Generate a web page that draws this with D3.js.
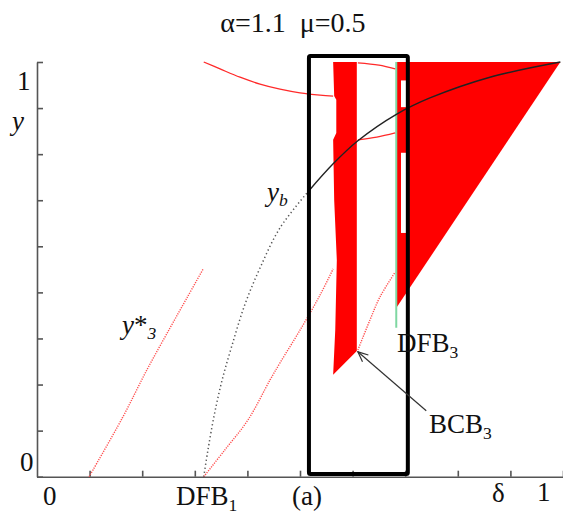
<!DOCTYPE html>
<html>
<head>
<meta charset="utf-8">
<script src="https://cdn.jsdelivr.net/npm/d3@7"></script>
<style>
  body { margin: 0; background: #fff; }
  text { font-family: "Liberation Serif", "Times New Roman", serif; fill: #111; }
</style>
</head>
<body>
<div id="canvas"></div>
<script>
// axis ticks (delta, y)
var xTicks = [0.1, 0.2, 0.3, 0.4, 0.5, 0.6, 0.7, 0.8, 0.9, 1.0];
var yTicks = [0.1, 0.2, 0.3, 0.4, 0.5, 0.6, 0.7, 0.8, 0.9, 1.0];

// filled red regions [delta, y]
var regionLeft = [[0.563, 1.0], [0.608, 1.0], [0.608, 0.373], [0.563, 0.321], [0.567, 0.418],
                  [0.570, 0.570], [0.565, 0.700], [0.563, 0.831], [0.569, 0.846], [0.569, 0.918], [0.565, 0.926]];
var regionRight = [[0.683, 1.0], [0.995, 1.0], [0.683, 0.466]];
// white holes inside the right region
var regionGaps = [[0.692, 0.703, 0.902, 0.960], [0.692, 0.703, 0.629, 0.803]];

// thin solid red curves
var redUpper = [[0.317, 1.0], [0.348, 0.985], [0.386, 0.967], [0.424, 0.952], [0.462, 0.941],
                [0.500, 0.933], [0.538, 0.928], [0.563, 0.926]];
var redInnerTop = [[0.610, 0.998], [0.650, 0.993], [0.681, 0.985]];
var redInnerBottom = [[0.610, 0.831], [0.646, 0.837], [0.681, 0.846]];

// dotted red curves
var yStar3 = [[0.099, 0.1], [0.162, 0.227], [0.209, 0.332], [0.253, 0.423], [0.285, 0.488], [0.316, 0.551]];
var redMiddle = [[0.317, 0.1], [0.357, 0.158], [0.401, 0.223], [0.443, 0.310], [0.462, 0.347],
                 [0.500, 0.418], [0.538, 0.494], [0.563, 0.551]];
var redRight = [[0.610, 0.375], [0.633, 0.440], [0.652, 0.490], [0.681, 0.544]];

// y_b curve (dotted part, then solid part)
var ybDotted = [[0.317, 0.1], [0.325, 0.158], [0.337, 0.234], [0.352, 0.310], [0.371, 0.386],
                [0.395, 0.473], [0.424, 0.553], [0.462, 0.640], [0.515, 0.718]];
var ybSolid = [[0.515, 0.718], [0.563, 0.779], [0.610, 0.829], [0.684, 0.887], [0.747, 0.922],
               [0.861, 0.967], [0.995, 1.0]];

// DFB3 line, zoom box, BCB3 arrow
var dfb3Line = [[0.683, 1.0], [0.683, 0.423]];
var zoomBox = [[0.517, 0.106], [0.705, 1.013]];
var bcbArrow = [[0.740, 0.243], [0.610, 0.371]];

var Chart = (function() {
    var that = { svg: null, x: null, y: null };
    that.init = function() {
        var w = 563;
        var h = 514;
        that.svg = d3.select("#canvas").append("svg").attr("width", w).attr("height", h);
        that.x = d3.scaleLinear().domain([0, 1]).range([37, 563]);
        that.y = d3.scaleLinear().domain([0.1, 1]).range([476.7, 62]);

        // arrow marker
        that.svg.append("defs").append("marker")
            .attr("id", "head")
            .attr("markerUnits", "userSpaceOnUse")
            .attr("markerWidth", 12).attr("markerHeight", 12)
            .attr("refX", 11).attr("refY", 6)
            .attr("orient", "auto")
            .append("path")
            .attr("d", "M1,1.5 L11,6 L1,10.5")
            .attr("fill", "none").attr("stroke", "#333").attr("stroke-width", 1.2);
    };
    that.drawAxes = function() {
        var x = that.x, y = that.y;
        var gx = that.svg.append("g").attr("transform", "translate(0," + y(0.1) + ")")
            .call(d3.axisBottom(x).tickValues(xTicks).tickSizeInner(-6).tickSizeOuter(0).tickFormat(""));
        var gy = that.svg.append("g").attr("transform", "translate(" + x(0) + ",0)")
            .call(d3.axisLeft(y).tickValues(yTicks).tickSizeInner(-6).tickSizeOuter(0).tickFormat(""));
        [gx, gy].forEach(function(g) {
            g.selectAll("path, line").attr("stroke", "#555").attr("stroke-width", 1.6);
        });
    };
    that.drawRegions = function() {
        var x = that.x, y = that.y;
        var poly = d3.line().x(d => x(d[0])).y(d => y(d[1])).curve(d3.curveLinearClosed);
        [regionLeft, regionRight].forEach(function(r) {
            that.svg.append("path").attr("d", poly(r)).attr("fill", "#ff0000");
        });
        that.svg.selectAll("rect.gap").data(regionGaps).enter().append("rect")
            .attr("x", d => x(d[0])).attr("width", d => x(d[1]) - x(d[0]))
            .attr("y", d => y(d[3])).attr("height", d => y(d[2]) - y(d[3]))
            .attr("fill", "#fff");
    };
    that.drawCurves = function() {
        var x = that.x, y = that.y;
        var line = d3.line().x(d => x(d[0])).y(d => y(d[1])).curve(d3.curveCatmullRom);

        // green DFB3 line
        that.svg.append("path").attr("d", line(dfb3Line))
            .attr("stroke", "#7fd7a2").attr("stroke-width", 2).attr("fill", "none");

        // solid red
        [redUpper, redInnerTop, redInnerBottom].forEach(function(c) {
            that.svg.append("path").attr("d", line(c))
                .attr("stroke", "#ff2a2a").attr("stroke-width", 1.3).attr("fill", "none");
        });
        // dotted red
        [yStar3, redMiddle, redRight].forEach(function(c) {
            that.svg.append("path").attr("d", line(c))
                .attr("stroke", "#ff4d4d").attr("stroke-width", 1.4)
                .attr("stroke-dasharray", "1.2,1.2").attr("fill", "none");
        });
        // y_b
        that.svg.append("path").attr("d", line(ybDotted))
            .attr("stroke", "#555").attr("stroke-width", 1.5)
            .attr("stroke-dasharray", "1.3,2.7").attr("fill", "none");
        that.svg.append("path").attr("d", line(ybSolid))
            .attr("stroke", "#222").attr("stroke-width", 1.4).attr("fill", "none");
    };
    that.drawBox = function() {
        var x = that.x, y = that.y;
        that.svg.append("rect")
            .attr("x", x(zoomBox[0][0])).attr("y", y(zoomBox[1][1]))
            .attr("width", x(zoomBox[1][0]) - x(zoomBox[0][0]))
            .attr("height", y(zoomBox[0][1]) - y(zoomBox[1][1]))
            .attr("rx", 1.5)
            .attr("fill", "none").attr("stroke", "#000").attr("stroke-width", 4);

        that.svg.append("line")
            .attr("x1", x(bcbArrow[0][0])).attr("y1", y(bcbArrow[0][1]))
            .attr("x2", x(bcbArrow[1][0])).attr("y2", y(bcbArrow[1][1]))
            .attr("stroke", "#333").attr("stroke-width", 1.2)
            .attr("marker-end", "url(#head)");
    };
    that.drawText = function() {
        var svg = that.svg;
        var label = function(px, py, parts, size) {
            var t = svg.append("text").attr("x", px).attr("y", py).style("font-size", size + "px");
            parts.forEach(function(p) {
                var s = t.append("tspan").text(p.t);
                if (p.sub) s.attr("dy", p.sub).style("font-size", (size * 0.65) + "px");
                if (p.it) s.style("font-style", "italic");
            });
            return t;
        };
        // title
        svg.append("text").attr("x", 293).attr("y", 32).attr("text-anchor", "middle")
            .style("font-size", "28px").style("white-space", "pre").text("\u03b1=1.1  \u03bc=0.5");

        // axis labels
        label(17, 90, [{t: "1"}], 27);
        label(12, 130, [{t: "y", it: true}], 27);
        label(20, 471, [{t: "0"}], 27);
        label(43, 505, [{t: "0"}], 27);
        label(176, 505, [{t: "DFB"}, {t: "1", sub: 6}], 27);
        label(292, 505, [{t: "(a)"}], 27);
        label(492, 502, [{t: "\u03b4"}], 27);
        label(537, 501, [{t: "1"}], 27);

        // curve labels
        label(397, 352, [{t: "DFB"}, {t: "3", sub: 6}], 27);
        label(429, 433, [{t: "BCB"}, {t: "3", sub: 6}], 27);
        label(267, 201, [{t: "y", it: true}, {t: "b", sub: 5, it: true}], 27);
        label(122, 334, [{t: "y", it: true}, {t: "*"}, {t: "3", sub: 5, it: true}], 27);
    };
    return that;
})();

Chart.init();
Chart.drawAxes();
Chart.drawRegions();
Chart.drawCurves();
Chart.drawBox();
Chart.drawText();
</script>
</body>
</html>
